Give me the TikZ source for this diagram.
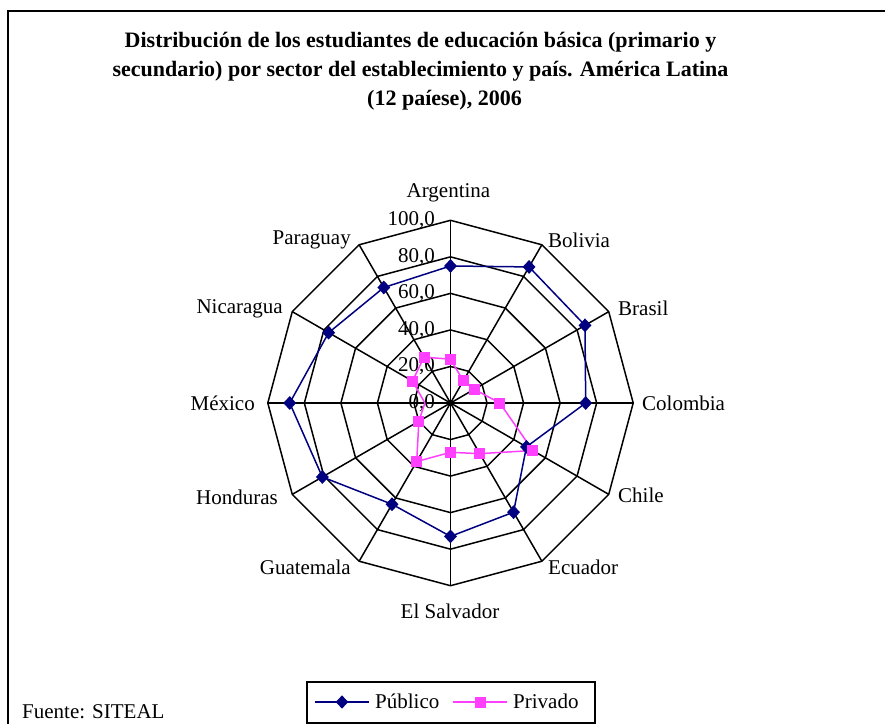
\documentclass[tikz,border=0pt]{standalone}
\usepackage{fontspec}
\setmainfont{Liberation Serif}
\usepackage{tikz}
\usetikzlibrary{shapes.geometric}

\definecolor{publico}{RGB}{0,0,128}
\definecolor{privado}{RGB}{255,64,255}

\tikzset{
  webline/.style={line width=1.5pt, black},
  publine/.style={line width=1.5pt, publico},
  privline/.style={line width=1.5pt, privado},
  pubmark/.style={diamond, fill=publico, inner sep=0pt, minimum width=13pt, minimum height=14pt},
  privmark/.style={rectangle, fill=privado, inner sep=0pt, minimum size=11pt},
  country/.style={inner sep=0pt}
}

\begin{document}
\begin{tikzpicture}[x=1pt, y=1pt]

  \fontsize{21}{25}\selectfont

  \newcommand\U{1.827};
  \newcommand\R{182.7};

  \useasboundingbox (-450.5,-321) rectangle (434.5,403);

  %% frame
  \draw[line width=2pt] (-442.5,-321) -- (-442.5,392) -- (434.5,392);

  %% title
  \node[font=\fontsize{22}{29}\selectfont\bfseries, align=center] (title) at (-30,332)
    {Distribución de los estudiantes de educación básica (primario y\\
     secundario) por sector del establecimiento y país. América Latina\\
     \hspace*{48pt}(12 paíese), 2006};

  %% web
  \foreach \r in {1,...,5}
    \draw[webline] (90:\r*36.54) \foreach \a in {60,30,...,-240} { -- (\a:\r*36.54) } -- cycle;
  \foreach \a in {90,60,...,-240}
    \draw[webline] (0,0) -- (\a:\R);

  %% values
  \foreach \v in {0,20,...,100}
    \node[anchor=east, inner sep=0pt] (tick\v) at (-15.5, \v*\U) {\v,0};

  %% countries
  \node[country] (argentina) at (-2,210) {Argentina};
  \node[country, anchor=west] (bolivia) at (97.5,163) {Bolivia};
  \node[country, anchor=west] (brasil) at (167.5,95) {Brasil};
  \node[country, anchor=west] (colombia) at (191.5,0) {Colombia};
  \node[country, anchor=west] (chile) at (167.5,-92) {Chile};
  \node[country, anchor=west] (ecuador) at (97.5,-164) {Ecuador};
  \node[country] (elsalvador) at (-0.5,-208) {El Salvador};
  \node[country, anchor=east] (guatemala) at (-99.5,-164) {Guatemala};
  \node[country, anchor=east] (honduras) at (-172.5,-94) {Honduras};
  \node[country, anchor=east] (mexico) at (-195.5,0) {México};
  \node[country, anchor=east] (nicaragua) at (-167.5,94) {Nicaragua};
  \node[country, anchor=east] (paraguay) at (-99.5,163) {Paraguay};

  %% series
  \foreach \v [count=\k from 0] in {75,86,85,74,48,69,73,64,81,88,77,73}
    \coordinate (pub\k) at ({90-30*\k}:{\v*\U});
  \foreach \v [count=\k from 0] in {24,14,15,27,52,32,27,37,20,14,24,29}
    \coordinate (priv\k) at ({90-30*\k}:{\v*\U});

  \draw[publine] (pub0) -- (pub1) -- (pub2) -- (pub3) -- (pub4) -- (pub5) -- (pub6)
    -- (pub7) -- (pub8) -- (pub9) -- (pub10) -- (pub11) -- cycle;
  \draw[privline] (priv0) -- (priv1) -- (priv2) -- (priv3) -- (priv4) -- (priv5) -- (priv6)
    -- (priv7) -- (priv8) -- (priv9) -- (priv10) -- (priv11) -- cycle;

  \foreach \k in {0,...,11}
    \node[pubmark] (pm\k) at (pub\k) {};
  \foreach \k in {0,...,8,10,11}
    \node[privmark] (qm\k) at (priv\k) {};

  %% source
  \node[anchor=west, inner sep=0pt] (fuente) at (-428.5,-309) {Fuente: SITEAL};

  %% legend
  \node[draw, line width=1.5pt, minimum width=288pt, minimum height=41pt, inner sep=0pt] (legend) at (0.5,-299.5) {};
  \coordinate (lpa) at (-135.5,-299);
  \coordinate (lpb) at (-81.5,-299);
  \coordinate (lqa) at (2.5,-299);
  \coordinate (lqb) at (56.5,-299);
  \draw[publine] (lpa) -- node[pubmark] (lpm) {} (lpb);
  \draw[privline] (lqa) -- node[privmark] (lqm) {} (lqb);
  \node[anchor=west, inner sep=0pt] (lpub) at (-75.5,-298) {Público};
  \node[anchor=west, inner sep=0pt] (lpriv) at (62.5,-298) {Privado};

\end{tikzpicture}
\end{document}
